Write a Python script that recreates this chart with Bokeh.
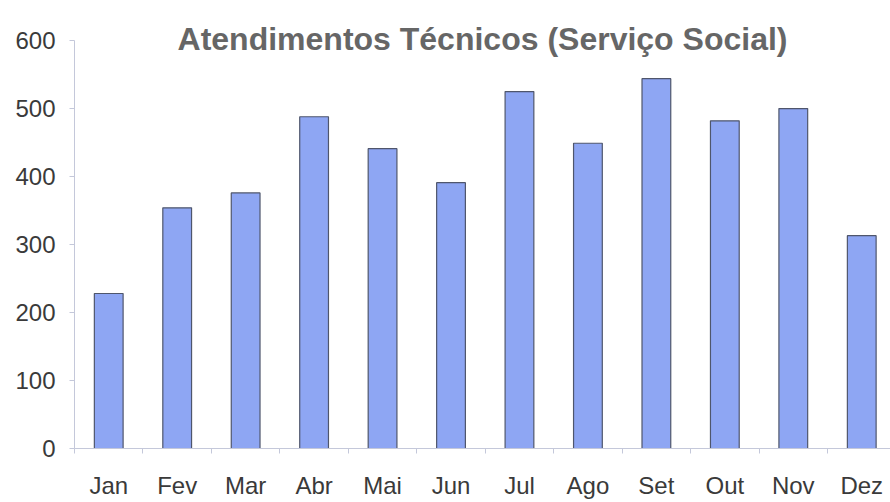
from bokeh.plotting import figure
from bokeh.models import Range1d, FixedTicker, Label, ColumnDataSource
from bokeh.embed import file_html
from bokeh.resources import INLINE

# ---- data ----
months = ["Jan", "Fev", "Mar", "Abr", "Mai", "Jun", "Jul", "Ago", "Set", "Out", "Nov", "Dez"]
values = [228, 354, 376, 488, 441, 391, 525, 449, 544, 482, 500, 313]
y_ticks = [0, 100, 200, 300, 400, 500, 600]
title_text = "Atendimentos Técnicos (Serviço Social)"

idx = list(range(len(months)))
src = ColumnDataSource(dict(x=idx, top=values, month=months))

x0, x1 = -0.5, len(months) - 0.58
y0, y1 = 0, 659

p = figure(width=890, height=502, output_backend="svg", toolbar_location=None,
           x_range=Range1d(x0, x1), y_range=Range1d(y0, y1),
           min_border_left=74, min_border_right=0, min_border_top=0, min_border_bottom=54)
p.outline_line_color = None
p.xgrid.grid_line_color = None
p.ygrid.grid_line_color = None
p.background_fill_color = "white"
p.border_fill_color = "white"

p.vbar(x="x", top="top", bottom=0, width=0.42, source=src,
       fill_color="#8ea6f3", line_color="#4f566c", line_width=1.2)

axis_col = "#c4c8da"
lab_col = "#3a3a3a"

# x axis
p.xaxis.ticker = FixedTicker(ticks=idx, minor_ticks=[i + 0.5 for i in range(-1, len(months))])
p.xaxis.major_label_overrides = {i: m for i, m in zip(idx, months)}
p.xaxis.major_tick_out = 0
p.xaxis.major_tick_in = 0
p.xaxis.minor_tick_out = 5
p.xaxis.minor_tick_in = 0
p.xaxis.minor_tick_line_color = axis_col
p.xaxis.axis_line_color = axis_col
p.xaxis.major_label_standoff = 18
p.xaxis.major_label_text_font = "Liberation Sans"
p.xaxis.major_label_text_font_size = "24px"
p.xaxis.major_label_text_color = lab_col

# y axis
p.yaxis.ticker = FixedTicker(ticks=y_ticks)
p.yaxis.bounds = (y_ticks[0], y_ticks[-1])
p.yaxis.major_tick_out = 5
p.yaxis.major_tick_in = 0
p.yaxis.minor_tick_line_color = None
p.yaxis.major_tick_line_color = axis_col
p.yaxis.axis_line_color = axis_col
p.yaxis.major_label_standoff = 14
p.yaxis.major_label_text_font = "Liberation Sans"
p.yaxis.major_label_text_font_size = "24px"
p.yaxis.major_label_text_color = lab_col

title = Label(x=(x0 + x1) / 2, y=603, text=title_text, text_align="center",
              text_baseline="alphabetic", text_font="Liberation Sans",
              text_font_style="bold", text_font_size="32px", text_color="#666666")
p.add_layout(title)

open("out.html", "w").write(file_html(p, INLINE))
